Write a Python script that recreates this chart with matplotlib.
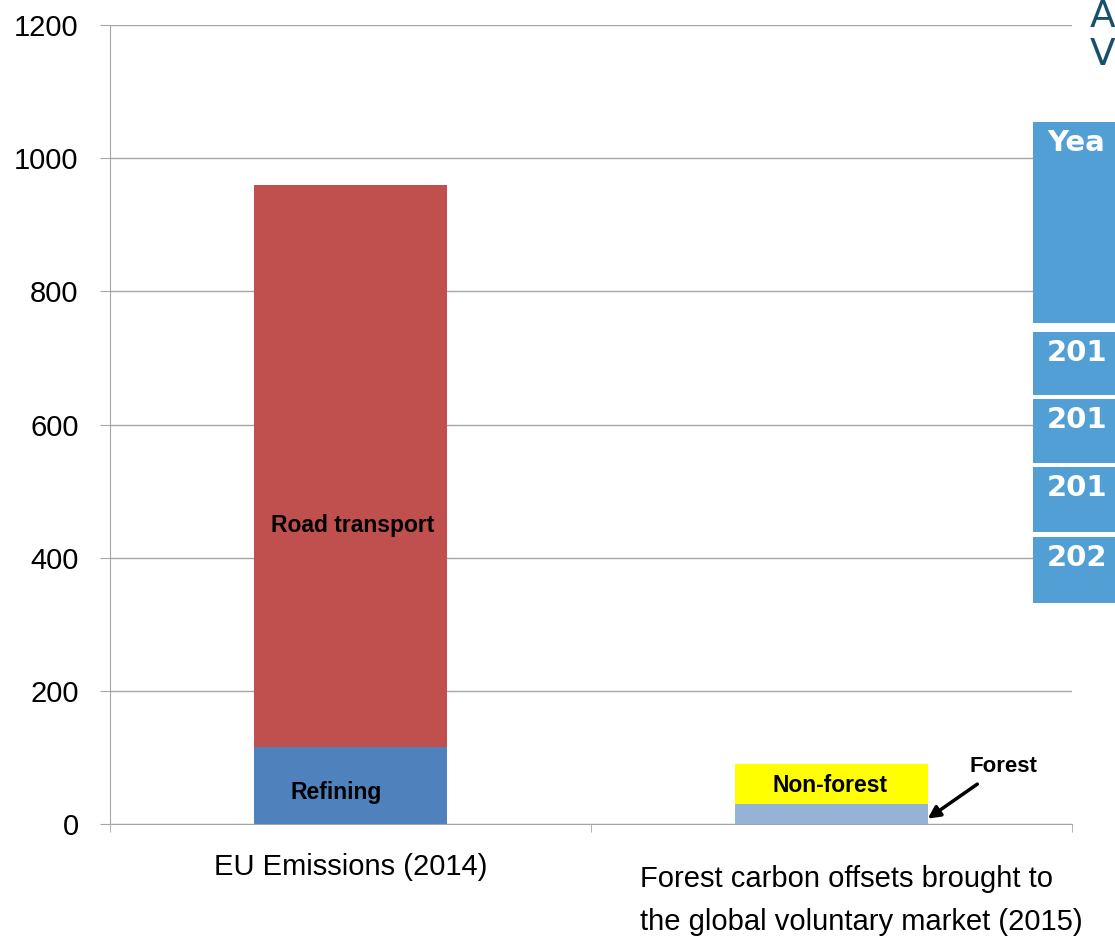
import matplotlib.pyplot as plt
from matplotlib.patches import Rectangle
from matplotlib.transforms import ScaledTranslation

categories = ["EU Emissions (2014)",
              "Forest carbon offsets brought to\nthe global voluntary market (2015)"]
lower = [115, 30]          # Refining / Forest
upper = [845, 60]          # Road transport / Non-forest
lower_colors = ["#4F81BD", "#95B3D7"]
upper_colors = ["#C0504D", "#FFFF00"]
yticks = [0, 200, 400, 600, 800, 1000, 1200]

table_head = "Yea"
table_rows = ["201", "201", "201", "202"]

W, H = 1115, 940
fig = plt.figure(figsize=(W / 100, H / 100), dpi=100)
ax = fig.add_axes([110 / W, 1 - 824 / H, (1072 - 110) / W, (824 - 25) / H])

x = [0, 1]
ax.bar(x, lower, width=0.4, color=lower_colors, zorder=2)
ax.bar(x, upper, bottom=lower, width=0.4, color=upper_colors, zorder=2)

ax.set_xlim(-0.5, 1.5)
ax.set_ylim(0, 1200)
ax.set_yticks(yticks)
ax.yaxis.grid(True, color="#A6A6A6", linewidth=1)
ax.set_axisbelow(True)

for s in ["top", "right"]:
    ax.spines[s].set_visible(False)
for s in ["left", "bottom"]:
    ax.spines[s].set_color("#A6A6A6")

ax.tick_params(axis="y", length=7.5, color="#A6A6A6", labelsize=21, pad=15)
ax.set_xticks(x)
ax.set_xticklabels(categories, fontsize=21, linespacing=1.68)
ax.tick_params(axis="x", which="major", length=0, pad=21)
ax.set_xticks([-0.5, 0.5, 1.5], minor=True)
ax.tick_params(axis="x", which="minor", length=6, color="#A6A6A6")
for lab in ax.get_yticklabels() + ax.get_xticklabels():
    lab.set_family("Liberation Sans")

# second category label is left-aligned, shifted left and down
lab2 = ax.get_xticklabels()[1]
lab2.set_ha("left")
lab2.set_transform(lab2.get_transform() + ScaledTranslation(-1.91, -0.12, fig.dpi_scale_trans))

# segment labels
ax.text(0.005, 449, "Road transport", ha="center", va="center", fontsize=16.5,
        fontweight="bold", family="Liberation Sans", zorder=3)
ax.text(-0.03, 48, "Refining", ha="center", va="center", fontsize=16.5,
        fontweight="bold", family="Liberation Sans", zorder=3)
ax.text(0.998, 58, "Non-forest", ha="center", va="center", fontsize=16.5,
        fontweight="bold", family="Liberation Sans", zorder=3)
ax.annotate("Forest", xy=(1.2, 8), xytext=(1.357, 87), ha="center", va="center",
            fontsize=16, fontweight="bold", family="Liberation Sans",
            arrowprops=dict(arrowstyle="-|>", color="black", lw=2.5,
                            mutation_scale=18, shrinkA=6, shrinkB=0))

# partial table on the right edge
teal = "#17506E"
blue = "#529FD6"
fig.text(1090 / W, 1 - 17 / H, "A", fontsize=27, color=teal, va="center", ha="left")
fig.text(1090 / W, 1 - 55 / H, "V", fontsize=27, color=teal, va="center", ha="left")

cells = [(122, 323, table_head)] + [
    (t, b, r) for (t, b), r in zip([(332, 395), (399, 463), (467, 532), (537, 603)], table_rows)
]
for top, bot, txt in cells:
    fig.patches.append(Rectangle((1033 / W, 1 - bot / H), (W - 1033) / W, (bot - top) / H,
                                 transform=fig.transFigure, facecolor=blue,
                                 edgecolor="none", zorder=5))
    fig.text(1047 / W, 1 - (top + 21) / H, txt, fontsize=21, fontweight="bold",
             color="white", va="center", ha="left", zorder=6)

fig.savefig("out.png", dpi=100)
